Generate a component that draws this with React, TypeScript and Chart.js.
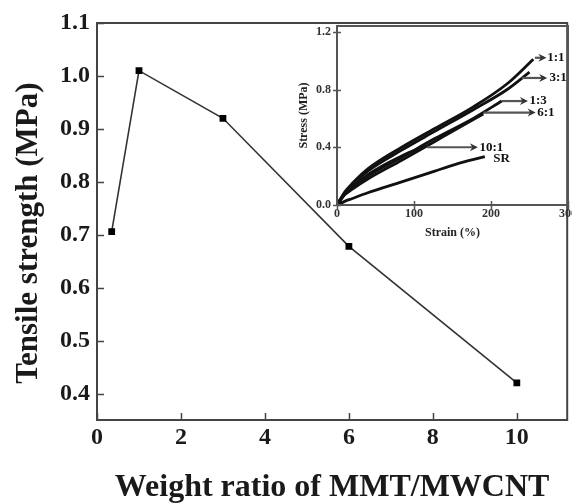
import React, { useEffect, useRef } from 'react';
import { Chart, registerables } from 'chart.js';

Chart.register(...registerables);

const FONT = "'Liberation Serif', 'Times New Roman', serif";

// Main chart data
const RATIO = [0.35, 1, 3, 6, 10];
const STRENGTH = [0.706, 1.01, 0.92, 0.678, 0.42];
const X_TICKS = [0, 2, 4, 6, 8, 10];
const Y_TICKS = [0.4, 0.5, 0.6, 0.7, 0.8, 0.9, 1.0, 1.1];

// Inset: stress-strain curves
const STRAIN_11 = [0, 10, 20, 40, 84, 127, 177, 221, 255];
const STRESS_11 = [0, 0.09, 0.15, 0.25, 0.4, 0.53, 0.68, 0.84, 1.01];
const STRAIN_31 = [0, 10, 20, 40, 84, 127, 177, 221, 250];
const STRESS_31 = [0, 0.085, 0.14, 0.235, 0.38, 0.51, 0.66, 0.8, 0.92];
const STRAIN_13 = [0, 10, 20, 40, 84, 127, 177, 214];
const STRESS_13 = [0, 0.075, 0.12, 0.2, 0.33, 0.46, 0.6, 0.72];
const STRAIN_61 = [0, 10, 20, 40, 84, 127, 153, 190];
const STRESS_61 = [0, 0.07, 0.11, 0.18, 0.31, 0.44, 0.52, 0.63];
const STRAIN_101 = [0, 10, 20, 40, 84, 115];
const STRESS_101 = [0, 0.075, 0.12, 0.21, 0.34, 0.41];
const STRAIN_SR = [0, 10, 20, 40, 84, 127, 153, 192];
const STRESS_SR = [0, 0.025, 0.045, 0.085, 0.16, 0.235, 0.28, 0.335];
const INSET_X_TICKS = [0, 100, 200, 300];
const INSET_Y_TICKS = [0, 0.4, 0.8, 1.2];

// Inset labels and arrows
const LABEL_TEXT = ['1:1', '3:1', '1:3', '6:1', '10:1', 'SR'];
const ARROW_FROM: (number | null)[] = [257, 240, 214, 190, 117, null];
const ARROW_TO: (number | null)[] = [272, 273, 248, 258, 183, null];
const LABEL_X = [273, 276, 250, 260, 185, 203];
const LABEL_Y = [1.02, 0.88, 0.72, 0.64, 0.4, 0.32];

function pts(xs: number[], ys: number[]) {
  return xs.map((x, i) => ({ x, y: ys[i] }));
}

function frameAndTicks(inLen: number, outLen: number, color: string, lw: number) {
  return {
    id: 'frameTicks',
    afterDatasetsDraw(chart: any) {
      const { ctx, chartArea: a } = chart;
      const xs = chart.scales.x;
      const ys = chart.scales.y;
      ctx.save();
      ctx.strokeStyle = color;
      ctx.lineWidth = lw;
      ctx.strokeRect(a.left, a.top, a.right - a.left, a.bottom - a.top);
      ctx.lineWidth = 1.5;
      ctx.beginPath();
      xs.ticks.forEach((t: any) => {
        const px = Math.round(xs.getPixelForValue(t.value)) + 0.5;
        ctx.moveTo(px, a.bottom + outLen);
        ctx.lineTo(px, a.bottom - inLen);
      });
      ys.ticks.forEach((t: any) => {
        const py = Math.round(ys.getPixelForValue(t.value)) + 0.5;
        ctx.moveTo(a.left - outLen, py);
        ctx.lineTo(a.left + inLen, py);
      });
      ctx.stroke();
      ctx.restore();
    },
  };
}

const arrowPlugin = {
  id: 'arrows',
  afterDatasetsDraw(chart: any) {
    const { ctx } = chart;
    const xs = chart.scales.x;
    const ys = chart.scales.y;
    ctx.save();
    LABEL_TEXT.forEach((txt, i) => {
      const from = ARROW_FROM[i];
      const to = ARROW_TO[i];
      const py = ys.getPixelForValue(LABEL_Y[i]);
      if (from !== null && to !== null) {
        const x1 = xs.getPixelForValue(from);
        const x2 = xs.getPixelForValue(to);
        ctx.strokeStyle = '#555';
        ctx.fillStyle = '#333';
        ctx.lineWidth = 2.2;
        ctx.beginPath();
        ctx.moveTo(x1, py);
        ctx.lineTo(x2 - 3, py);
        ctx.stroke();
        ctx.beginPath();
        ctx.moveTo(x2, py);
        ctx.lineTo(x2 - 8, py - 4);
        ctx.lineTo(x2 - 5.5, py);
        ctx.lineTo(x2 - 8, py + 4);
        ctx.closePath();
        ctx.fill();
      }
      ctx.fillStyle = '#111';
      ctx.font = `bold 13px ${FONT}`;
      ctx.textAlign = 'left';
      ctx.textBaseline = 'middle';
      ctx.fillText(txt, xs.getPixelForValue(LABEL_X[i]), py);
    });
    ctx.restore();
  },
};

function MainChart() {
  const ref = useRef<HTMLCanvasElement>(null);
  useEffect(() => {
    if (!ref.current) return;
    const chart = new Chart(ref.current, {
      type: 'scatter',
      data: {
        datasets: [
          {
            data: pts(RATIO, STRENGTH),
            showLine: true,
            borderColor: '#333',
            borderWidth: 1.6,
            backgroundColor: '#000',
            pointStyle: 'rect',
            pointRadius: 4.8,
            pointBorderWidth: 0,
          },
        ],
      },
      options: {
        animation: false,
        responsive: false,
        layout: { padding: { top: 23, right: 2, left: 0, bottom: 0 } },
        plugins: { legend: { display: false }, tooltip: { enabled: false } },
        scales: {
          x: {
            type: 'linear',
            min: 0,
            max: 11.2,
            afterBuildTicks: (s: any) => {
              s.ticks = X_TICKS.map((v) => ({ value: v }));
            },
            afterFit: (s: any) => {
              s.height = 83;
              s.paddingLeft = 0;
              s.paddingRight = 0;
            },
            grid: { display: false, drawTicks: false },
            border: { display: false },
            ticks: {
              padding: 3,
              color: '#1a1a1a',
              font: { family: FONT, size: 24, weight: 'bold' },
              callback: (v: any) => String(v),
              maxRotation: 0,
            },
            title: {
              display: true,
              text: 'Weight ratio of MMT/MWCNT',
              color: '#1a1a1a',
              font: { family: FONT, size: 32, weight: 'bold', lineHeight: 0.9 },
              padding: { top: 0, bottom: 1 },
            },
          },
          y: {
            type: 'linear',
            min: 0.35,
            max: 1.1,
            afterBuildTicks: (s: any) => {
              s.ticks = Y_TICKS.map((v) => ({ value: v }));
            },
            afterFit: (s: any) => {
              s.width = 97;
              s.paddingTop = 0;
              s.paddingBottom = 0;
            },
            grid: { display: false, drawTicks: false },
            border: { display: false },
            ticks: {
              padding: 7,
              color: '#1a1a1a',
              font: { family: FONT, size: 24, weight: 'bold' },
              callback: (v: any) => Number(v).toFixed(1),
            },
            title: {
              display: true,
              text: 'Tensile strength (MPa)\u00a0\u00a0\u00a0',
              color: '#1a1a1a',
              font: { family: FONT, size: 31, weight: 'bold', lineHeight: 1 },
              padding: { top: 13, bottom: 0 },
            },
          },
        },
      },
      plugins: [frameAndTicks(7, 0, '#444', 2)],
    } as any);
    return () => chart.destroy();
  }, []);
  return (
    <canvas
      ref={ref}
      width={572}
      height={503}
      style={{ position: 'absolute', left: 0, top: 0, width: 572, height: 503 }}
    />
  );
}

function InsetChart() {
  const ref = useRef<HTMLCanvasElement>(null);
  useEffect(() => {
    if (!ref.current) return;
    const curve = (xs: number[], ys: number[]) => ({
      data: pts(xs, ys),
      showLine: true,
      borderColor: '#111',
      borderWidth: 2.8,
      pointRadius: 0,
      cubicInterpolationMode: 'monotone',
    });
    const chart = new Chart(ref.current, {
      type: 'scatter',
      data: {
        datasets: [
          curve(STRAIN_SR, STRESS_SR),
          curve(STRAIN_101, STRESS_101),
          curve(STRAIN_61, STRESS_61),
          curve(STRAIN_13, STRESS_13),
          curve(STRAIN_31, STRESS_31),
          curve(STRAIN_11, STRESS_11),
        ],
      },
      options: {
        animation: false,
        responsive: false,
        layout: { padding: { top: 11, right: 4, left: 0, bottom: 0 } },
        plugins: { legend: { display: false }, tooltip: { enabled: false } },
        scales: {
          x: {
            type: 'linear',
            min: 0,
            max: 300,
            afterBuildTicks: (s: any) => {
              s.ticks = INSET_X_TICKS.map((v) => ({ value: v }));
            },
            afterFit: (s: any) => {
              s.height = 40;
              s.paddingLeft = 0;
              s.paddingRight = 0;
            },
            grid: { display: false, drawTicks: false },
            border: { display: false },
            ticks: {
              padding: 2,
              color: '#333',
              font: { family: FONT, size: 12, weight: 'bold' },
              callback: (v: any) => String(v),
              maxRotation: 0,
            },
            title: {
              display: true,
              text: 'Strain (%)',
              color: '#222',
              font: { family: FONT, size: 12, weight: 'bold' },
              padding: { top: 0, bottom: 5 },
            },
          },
          y: {
            type: 'linear',
            min: 0,
            max: 1.24,
            afterBuildTicks: (s: any) => {
              s.ticks = INSET_Y_TICKS.map((v) => ({ value: v }));
            },
            afterFit: (s: any) => {
              s.width = 57;
              s.paddingTop = 0;
              s.paddingBottom = 0;
            },
            grid: { display: false, drawTicks: false },
            border: { display: false },
            ticks: {
              padding: 6,
              color: '#333',
              font: { family: FONT, size: 12, weight: 'bold' },
              callback: (v: any) => Number(v).toFixed(1),
            },
            title: {
              display: true,
              text: 'Stress (MPa)',
              color: '#222',
              font: { family: FONT, size: 12, weight: 'bold' },
              padding: { top: 17, bottom: 0 },
            },
          },
        },
      },
      plugins: [frameAndTicks(4, 4, '#555', 2), arrowPlugin],
    } as any);
    return () => chart.destroy();
  }, []);
  return (
    <canvas
      ref={ref}
      width={292}
      height={230}
      style={{ position: 'absolute', left: 280, top: 15, width: 292, height: 230 }}
    />
  );
}

export default function App() {
  return (
    <div
      style={{
        position: 'fixed',
        left: 0,
        top: 0,
        width: 572,
        height: 503,
        background: '#fff',
        overflow: 'hidden',
      }}
    >
      <MainChart />
      <InsetChart />
    </div>
  );
}
